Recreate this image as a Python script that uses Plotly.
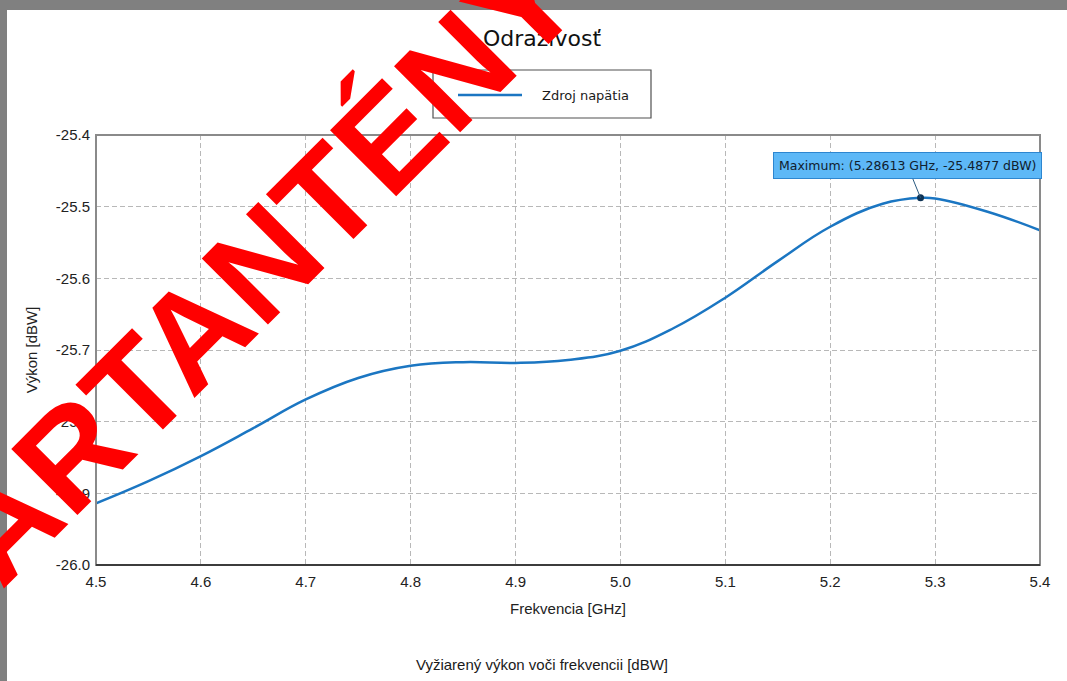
import plotly.graph_objects as go

# ---- data ----
freq_ghz = [4.50, 4.55, 4.60, 4.65, 4.70, 4.75, 4.80, 4.85, 4.90, 4.95,
            5.00, 5.05, 5.10, 5.15, 5.20, 5.25, 5.28613, 5.30, 5.35, 5.40]
power_dbw = [-25.914, -25.883, -25.848, -25.809, -25.769, -25.739, -25.722, -25.717, -25.718, -25.714,
             -25.701, -25.670, -25.627, -25.576, -25.528, -25.496, -25.4877, -25.4885, -25.507, -25.533]
x_ticks = [4.5, 4.6, 4.7, 4.8, 4.9, 5.0, 5.1, 5.2, 5.3, 5.4]
y_ticks = [-26.0, -25.9, -25.8, -25.7, -25.6, -25.5, -25.4]

series_name = "Zdroj napätia"
title_text = "Odrazivosť"
x_title = "Frekvencia [GHz]"
y_title = "Výkon [dBW]"
caption = "Vyžiarený výkon voči frekvencii [dBW]"
watermark = "ARTANTÉNY"

imax = max(range(len(power_dbw)), key=lambda i: power_dbw[i])
fmax, pmax = freq_ghz[imax], power_dbw[imax]

W, H = 1067, 681
L, R, T, B = 96, 1040, 135, 565
def px(xp):
    return (xp - L) / (R - L)
def py(yp):
    return (B - yp) / (B - T)

LINE = "#1b76c2"
AX_FONT = "Liberation Sans, Arial, sans-serif"
UI_FONT = "DejaVu Sans, Verdana, sans-serif"

fig = go.Figure()
fig.add_trace(go.Scatter(x=freq_ghz, y=power_dbw, mode="lines", name=series_name,
                         line=dict(color=LINE, width=2.5, shape="spline", smoothing=1.2),
                         showlegend=False, hoverinfo="skip"))
fig.add_trace(go.Scatter(x=[fmax], y=[pmax], mode="markers", showlegend=False,
                         marker=dict(color="#0e3355", size=7), hoverinfo="skip"))

shapes = [
    # gray window borders
    dict(type="rect", xref="paper", yref="paper", x0=px(-50), x1=px(W + 50), y0=py(10), y1=py(-50),
         fillcolor="#808080", line=dict(width=0), layer="below"),
    dict(type="rect", xref="paper", yref="paper", x0=px(-50), x1=px(7), y0=py(H + 50), y1=py(-50),
         fillcolor="#808080", line=dict(width=0), layer="below"),
    # plot frame
    dict(type="rect", xref="paper", yref="paper", x0=0, x1=1, y0=0, y1=1,
         line=dict(color="#8a8a8a", width=2), layer="above"),
    dict(type="line", xref="paper", yref="paper", x0=0, x1=1, y0=0, y1=0,
         line=dict(color="#3c3c3c", width=2), layer="above"),
    # legend box
    dict(type="rect", xref="paper", yref="paper", x0=px(433), x1=px(651), y0=py(118), y1=py(70),
         fillcolor="white", line=dict(color="#505050", width=1.2), layer="above"),
    dict(type="line", xref="paper", yref="paper", x0=px(458), x1=px(522), y0=py(95), y1=py(95),
         line=dict(color=LINE, width=2.5), layer="above"),
]

annotations = [
    dict(xref="paper", yref="paper", x=px(540), y=py(95), xanchor="left", yanchor="middle",
         text=series_name, showarrow=False, font=dict(family=UI_FONT, size=13, color="#1a1a1a")),
    dict(xref="x", yref="y", x=fmax, y=pmax, ax=-13, ay=-32, axref="pixel", ayref="pixel",
         text=f"Maximum: ({fmax:.5f} GHz, {pmax:.4f} dBW)", showarrow=True,
         arrowhead=0, arrowwidth=1, arrowcolor="#2a5a80",
         bgcolor="#5db8f7", bordercolor="#2d86d0", borderwidth=1, borderpad=5,
         font=dict(family=UI_FONT, size=12.5, color="#10202e")),
    dict(xref="paper", yref="paper", x=px(542), y=py(664), xanchor="center", yanchor="middle",
         text=caption, showarrow=False, font=dict(family=AX_FONT, size=15, color="#1a1a1a")),
    dict(xref="paper", yref="paper", x=px(261), y=py(265), xanchor="center", yanchor="middle",
         text="<b>" + watermark + "</b>", textangle=-45, showarrow=False,
         font=dict(family="Liberation Sans, Arial, sans-serif", size=136, color="#ff0000")),
]

fig.update_layout(
    width=W, height=H,
    margin=dict(l=L, r=W - R, t=T, b=H - B, pad=0),
    paper_bgcolor="white", plot_bgcolor="white",
    title=dict(text=title_text, x=542 / W, y=1 - 38 / H, xanchor="center", yanchor="middle",
               xref="container", yref="container",
               font=dict(family=UI_FONT, size=22, color="#111111")),
    shapes=shapes, annotations=annotations,
    xaxis=dict(range=[4.5, 5.4], tickmode="array", tickvals=x_ticks,
               ticktext=[f"{v:.1f}" for v in x_ticks],
               showgrid=True, gridcolor="#b8b8b8", griddash="5px,3px", gridwidth=1,
               zeroline=False, showline=False, ticks="", ticklabelstandoff=6,
               tickfont=dict(family=AX_FONT, size=15, color="#222222"),
               title=dict(text=x_title, standoff=14, font=dict(family=AX_FONT, size=15, color="#222222"))),
    yaxis=dict(range=[-26.0, -25.4], tickmode="array", tickvals=y_ticks,
               ticktext=[f"{v:.1f}" for v in y_ticks],
               showgrid=True, gridcolor="#b8b8b8", griddash="5px,3px", gridwidth=1,
               zeroline=False, showline=False, ticks="", ticklabelstandoff=5,
               tickfont=dict(family=AX_FONT, size=15, color="#222222"),
               title=dict(text=y_title, standoff=14, font=dict(family=AX_FONT, size=15, color="#222222"))),
)

fig.write_html("out.html", config={"displayModeBar": False, "staticPlot": True},
               post_script="document.body.style.margin='0px';document.body.style.overflow='hidden';")
